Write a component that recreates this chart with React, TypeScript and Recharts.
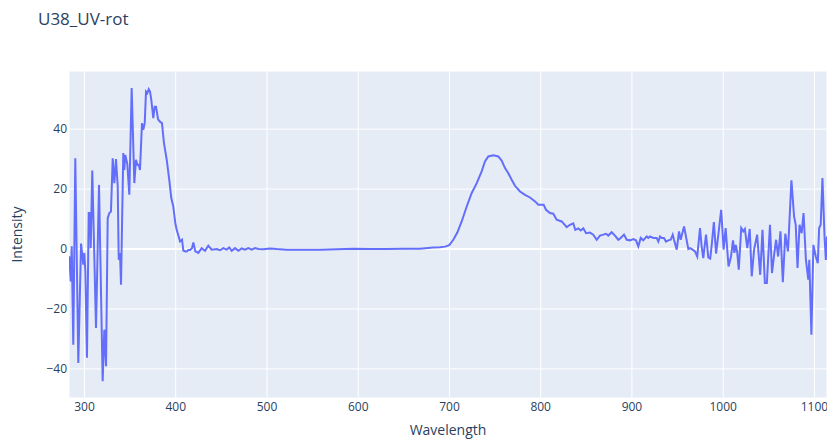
import React from "react";
import { LineChart, Line, XAxis, YAxis, CartesianGrid, ReferenceLine } from "recharts";

const wavelength = [
  283.3, 284.9, 286.0, 287.7, 289.9, 293.2, 296.2, 297.6, 298.7, 299.8, 300.9, 302.7, 304.6, 306.0, 306.8,
  308.5, 312.6, 315.9, 319.9, 321.7, 323.6, 325.4, 327.2, 329.0, 330.9, 332.7, 334.5, 336.4, 337.5, 338.9,
  340.0, 342.5, 343.6, 344.7, 346.9, 349.1, 351.7, 354.6, 356.4, 357.9, 359.4, 360.8, 363.0, 364.4, 366.0,
  367.4, 368.8, 370.4, 371.8, 373.2, 375.4, 376.9, 378.4, 380.6, 382.7, 384.9, 387.1, 390.1, 392.9, 395.1,
  397.3, 399.5, 401.0, 403.2, 404.7, 406.9, 408.3, 410.5, 412.0, 413.8, 415.6, 417.8, 419.3, 421.5, 424.7,
  428.4, 432.1, 435.7, 439.4, 444.9, 448.5, 452.1, 455.8, 458.7, 461.3, 465.0, 468.6, 472.3, 475.9, 479.5,
  483.3, 486.9, 490.5, 496.0, 503.3, 510.7, 521.6, 539.8, 558.1, 576.4, 594.6, 612.9, 631.2, 649.4, 667.7,
  682.3, 689.6, 695.1, 699.8, 704.2, 708.6, 713.4, 718.9, 724.4, 729.9, 735.3, 738.9, 742.6, 748.1, 753.5,
  757.2, 760.9, 764.5, 768.2, 771.8, 777.3, 782.8, 788.3, 793.8, 797.4, 801.1, 803.2, 805.8, 810.2, 813.8,
  817.5, 823.0, 828.5, 832.1, 835.7, 837.9, 841.2, 843.8, 846.7, 849.7, 853.9, 857.6, 861.4, 865.0, 868.6,
  871.6, 874.1, 877.8, 881.4, 885.1, 887.7, 891.3, 894.3, 897.9, 901.5, 904.4, 907.0, 909.6, 912.4, 916.2,
  917.9, 919.8, 923.4, 927.1, 928.9, 930.8, 932.6, 935.1, 937.3, 939.8, 942.5, 944.7, 946.1, 949.1, 951.6,
  953.4, 957.1, 959.2, 961.8, 963.6, 966.6, 969.1, 971.6, 974.6, 976.4, 978.2, 981.2, 983.7, 985.8, 987.3,
  989.8, 992.2, 994.9, 997.8, 1000.5, 1002.7, 1004.2, 1005.9, 1008.6, 1010.8, 1012.3, 1013.8, 1015.3, 1017.1, 1019.8,
  1022.0, 1023.8, 1026.4, 1029.1, 1031.3, 1033.9, 1037.2, 1040.6, 1043.1, 1045.7, 1047.9, 1051.3, 1053.5, 1056.1, 1058.0,
  1060.2, 1062.8, 1065.4, 1068.1, 1071.0, 1072.1, 1074.8, 1077.7, 1079.5, 1081.5, 1083.7, 1086.0, 1088.1, 1090.7, 1093.3,
  1094.4, 1096.7, 1098.9, 1101.5, 1103.7, 1105.2, 1106.9, 1108.8, 1111.1, 1112.5, 1113.8,
];

const intensity = [
  -2.4, -10.8, 0.9, -31.9, 30.3, -38.0, 1.8, -2.0, -5.2, -1.3, -7.5, -36.3, 12.0, 12.0, 0.3,
  26.2, -26.3, 21.4, -44.1, -26.9, -39.1, 10.3, 12.0, 12.5, 30.3, 22.0, 30.0, 20.9, -3.6, -1.3,
  -11.9, 32.0, 26.4, 31.4, 28.4, 18.1, 53.7, 22.0, 29.8, 28.1, 28.1, 26.4, 42.0, 39.8, 42.0,
  52.5, 52.0, 53.3, 52.5, 49.8, 43.7, 47.5, 47.5, 43.3, 42.5, 42.0, 35.3, 29.8, 23.1, 17.0,
  14.2, 8.7, 6.4, 4.2, 2.5, 3.1, -0.5, -0.8, -0.8, -0.3, -0.3, 0.3, 2.2, -0.8, -1.3,
  0.3, -0.6, 1.1, -0.2, 0.0, -0.4, 0.3, -0.2, 0.5, -0.6, 0.3, -0.6, 0.2, -0.2, 0.3,
  -0.2, 0.3, 0.0, -0.1, 0.2, 0.0, -0.2, -0.2, -0.2, -0.1, 0.1, 0.0, 0.0, 0.1, 0.1,
  0.5, 0.6, 0.8, 1.3, 3.1, 5.5, 9.2, 14.2, 18.7, 22.0, 25.9, 29.2, 30.9, 31.3, 30.9,
  29.5, 27.0, 25.3, 23.1, 21.1, 19.2, 18.1, 17.2, 15.9, 14.8, 14.8, 14.8, 13.1, 12.0, 11.8,
  9.8, 9.2, 7.3, 8.1, 8.6, 6.4, 6.9, 6.2, 6.9, 5.3, 5.5, 4.8, 3.1, 4.5, 4.8,
  5.1, 4.5, 5.6, 4.5, 3.1, 3.7, 4.8, 3.1, 2.9, 3.3, 2.9, 0.9, 3.7, 2.9, 4.2,
  3.7, 4.2, 3.7, 3.7, 2.5, 4.2, 3.7, 3.7, 2.5, 2.9, 3.1, 4.8, 3.1, -0.2, 5.9,
  3.1, 7.5, 4.2, 0.0, 0.3, -0.2, -0.8, -2.5, 7.0, 0.9, -3.0, 4.8, -2.8, -3.2, 0.9,
  9.0, -1.5, 5.3, 13.1, -0.2, 7.0, 0.9, -5.8, -2.5, 2.9, -1.3, 1.4, -0.8, -6.9, 7.0,
  5.9, 6.7, 0.3, 6.7, -9.1, -0.2, 4.8, -8.6, 6.4, -11.3, -11.3, 8.1, -8.0, -1.3, 3.1,
  -2.5, 5.9, -11.1, 5.1, -0.8, 5.9, 22.9, 10.9, 8.1, -6.3, 8.1, 5.3, 12.0, -3.6, -10.2,
  -3.6, -28.6, 1.4, -2.5, -4.7, 7.0, 8.1, 23.7, 4.2, -3.6, 4.2,
];

const xTicks = [300, 400, 500, 600, 700, 800, 900, 1000, 1100];
const yTicks = [-40, -20, 0, 20, 40];

const chartTitle = "U38_UV-rot";
const xTitle = "Wavelength";
const yTitle = "Intensity";

const data = wavelength.map((w, i) => ({ w, v: intensity[i] }));

const FONT = '"Open Sans", verdana, arial, sans-serif';
const TEXT = "#2a3f5f";

const fmt = (v: number) => String(v).replace("-", "\u2212");

export default function App() {
  return (
    <div style={{ position: "absolute", left: 0, top: 0, width: 827, height: 439, background: "#fff", fontFamily: FONT }}>
      <LineChart width={827} height={439} data={data} margin={{ top: 71, right: 0, bottom: 0, left: 0 }}>
        <CartesianGrid stroke="#ffffff" strokeWidth={1} fill="#E5ECF6" fillOpacity={1} />
        <XAxis
          dataKey="w"
          type="number"
          domain={[283, 1113.8]}
          allowDataOverflow
          ticks={xTicks}
          height={41}
          axisLine={false}
          tickLine={false}
          tickSize={0}
          tickMargin={4}
          tick={{ fill: TEXT, fontSize: 12, fontFamily: FONT }}
        />
        <YAxis
          type="number"
          domain={[-49.7, 59.4]}
          allowDataOverflow
          ticks={yTicks}
          width={69}
          axisLine={false}
          tickLine={false}
          tickSize={0}
          tickMargin={2}
          tickFormatter={fmt}
          tick={{ fill: TEXT, fontSize: 12, fontFamily: FONT }}
        />
        <ReferenceLine y={0} stroke="#ffffff" strokeWidth={2} />
        <Line
          type="linear"
          dataKey="v"
          stroke="#636efa"
          strokeWidth={2}
          dot={false}
          isAnimationActive={false}
        />
      </LineChart>
      <svg width={827} height={439} style={{ position: "absolute", left: 0, top: 0, pointerEvents: "none" }}>
        <text x={38} y={24.5} fontSize={17} fill={TEXT} fontFamily={FONT}>{chartTitle}</text>
        <text x={448} y={435} fontSize={14} fill={TEXT} fontFamily={FONT} textAnchor="middle">{xTitle}</text>
        <text
          x={17}
          y={234.5}
          fontSize={14}
          fill={TEXT}
          fontFamily={FONT}
          textAnchor="middle"
          dy="0.35em"
          transform="rotate(-90, 17, 234.5)"
        >
          {yTitle}
        </text>
      </svg>
    </div>
  );
}
